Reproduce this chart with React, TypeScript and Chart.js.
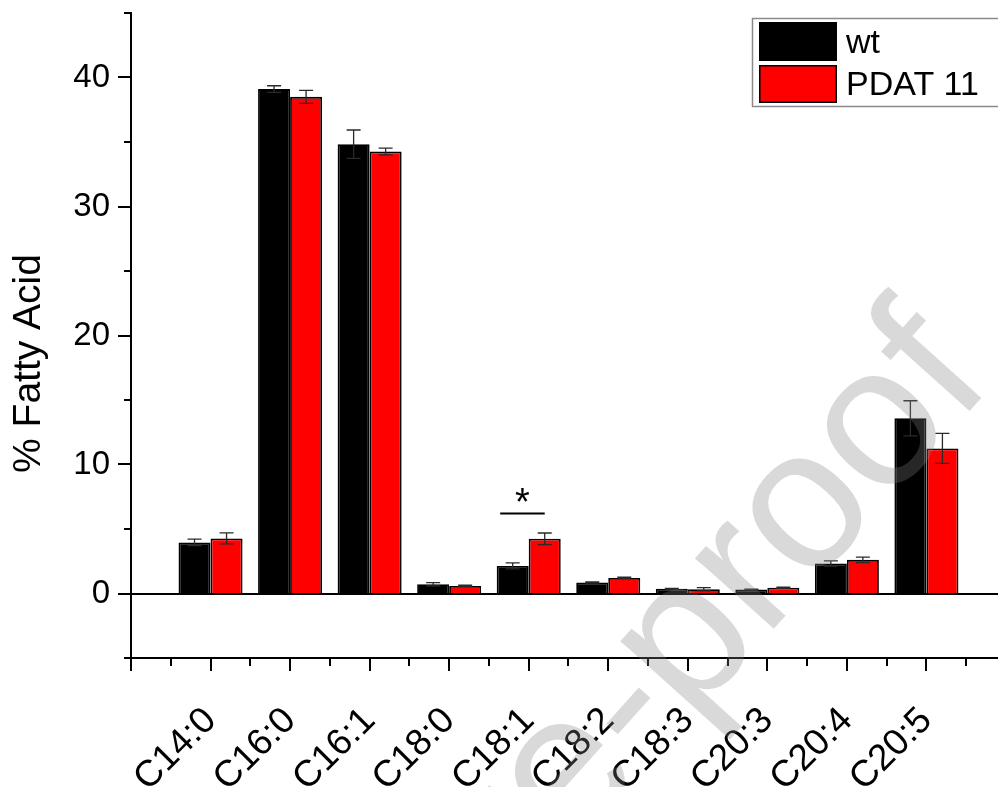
import React, { useEffect, useRef } from "react";
import { Chart, registerables } from "chart.js";

Chart.register(...registerables);

const categories = ["C14:0", "C16:0", "C16:1", "C18:0", "C18:1", "C18:2", "C18:3", "C20:3", "C20:4", "C20:5"];
const wtValues = [3.96, 39.1, 34.83, 0.72, 2.14, 0.85, 0.36, 0.31, 2.33, 13.58];
const wtErrors = [0.25, 0.26, 1.1, 0.13, 0.23, 0.05, 0.03, 0.03, 0.2, 1.36];
const pdatValues = [4.27, 38.5, 34.26, 0.59, 4.24, 1.21, 0.33, 0.44, 2.61, 11.25];
const pdatErrors = [0.43, 0.5, 0.26, 0.05, 0.45, 0.05, 0.12, 0.05, 0.21, 1.16];
const seriesLabels = ["wt", "PDAT 11"];
const seriesColors = ["#000000", "#ff0000"];
const yTickValues = [0, 10, 20, 30, 40];
const yMin = -5;
const yMax = 45;
const xMin = 0;
const xMax = 10.9;
const significantCategory = "C18:1";
const significanceLineValue = 6.25;
const yTitle = "% Fatty Acid";
const watermarkText = "Journal Pre-proof";

const FONT = '"Liberation Sans", Arial, sans-serif';

const zeroPad = (s: any) => {
  s.paddingLeft = 0;
  s.paddingRight = 0;
  s.paddingTop = 0;
  s.paddingBottom = 0;
};

const decorPlugin = {
  id: "decor",
  afterDatasetsDraw(chart: any) {
    const { ctx, chartArea, scales } = chart;
    const xs = scales.x;
    const ys = scales.y;
    ctx.save();
    // zero line
    ctx.strokeStyle = "#000";
    ctx.lineWidth = 2;
    const y0 = Math.round(ys.getPixelForValue(0));
    ctx.beginPath();
    ctx.moveTo(chartArea.left, y0);
    ctx.lineTo(chartArea.right, y0);
    ctx.stroke();

    // error bars
    const errs = [wtErrors, pdatErrors];
    const vals = [wtValues, pdatValues];
    ctx.strokeStyle = "#2a2a2a";
    ctx.lineWidth = 1.3;
    for (let d = 0; d < 2; d++) {
      const meta = chart.getDatasetMeta(d);
      meta.data.forEach((el: any, i: number) => {
        const x = el.x;
        const top = ys.getPixelForValue(vals[d][i] + errs[d][i]);
        const bot = ys.getPixelForValue(vals[d][i] - errs[d][i]);
        ctx.beginPath();
        ctx.moveTo(x, top);
        ctx.lineTo(x, bot);
        ctx.moveTo(x - 7, top);
        ctx.lineTo(x + 7, top);
        ctx.moveTo(x - 7, bot);
        ctx.lineTo(x + 7, bot);
        ctx.stroke();
      });
    }

    // tick marks
    ctx.strokeStyle = "#000";
    ctx.lineWidth = 2;
    for (let v = yMin; v <= yMax; v += 5) {
      const len = v % 10 === 0 ? 13 : 7;
      const y = Math.round(ys.getPixelForValue(v));
      ctx.beginPath();
      ctx.moveTo(chartArea.left - len, y);
      ctx.lineTo(chartArea.left, y);
      ctx.stroke();
    }
    for (let v = xMin; v <= xMax; v += 0.5) {
      const len = Number.isInteger(v) ? 13 : 8;
      const x = Math.round(xs.getPixelForValue(v));
      ctx.beginPath();
      ctx.moveTo(x, chartArea.bottom);
      ctx.lineTo(x, chartArea.bottom + len);
      ctx.stroke();
    }

    // significance marker
    const si = categories.indexOf(significantCategory);
    const b0 = chart.getDatasetMeta(0).data[si];
    const b1 = chart.getDatasetMeta(1).data[si];
    const ly = Math.round(ys.getPixelForValue(significanceLineValue)) + 0.5;
    const x1 = b0.x - 12.5;
    const x2 = b1.x;
    ctx.lineWidth = 2.2;
    ctx.beginPath();
    ctx.moveTo(x1, ly);
    ctx.lineTo(x2, ly);
    ctx.stroke();
    ctx.fillStyle = "#000";
    ctx.font = `38px ${FONT}`;
    ctx.textAlign = "center";
    ctx.textBaseline = "alphabetic";
    ctx.fillText("*", (x1 + x2) / 2, ly + 1);

    // legend
    const ds = chart.data.datasets;
    ctx.strokeStyle = "#8a8a8a";
    ctx.lineWidth = 1.5;
    ctx.strokeRect(752.5, 18.5, 260, 88);
    const rows = [
      { y: 22, h: 39, base: 53 },
      { y: 65, h: 38, base: 95 },
    ];
    ds.forEach((d: any, i: number) => {
      const r = rows[i];
      ctx.fillStyle = d.backgroundColor;
      ctx.fillRect(759, r.y, 78, r.h);
      ctx.strokeStyle = "#000";
      ctx.lineWidth = 1.5;
      ctx.strokeRect(759.75, r.y + 0.75, 76.5, r.h - 1.5);
      ctx.fillStyle = "#000";
      ctx.font = `34px ${FONT}`;
      ctx.textAlign = "left";
      ctx.textBaseline = "alphabetic";
      ctx.fillText(d.label, 846, r.base);
    });

    // y title
    ctx.save();
    ctx.translate(29, 363.5);
    ctx.rotate(-Math.PI / 2);
    ctx.font = `39px ${FONT}`;
    ctx.textAlign = "center";
    ctx.textBaseline = "middle";
    ctx.fillStyle = "#000";
    ctx.fillText(yTitle, 0, 0);
    ctx.restore();
    ctx.restore();
  },
  afterDraw(chart: any) {
    const { ctx } = chart;
    ctx.save();
    ctx.translate(995, 383);
    ctx.rotate((-48 * Math.PI) / 180);
    ctx.font = `200px ${FONT}`;
    ctx.textAlign = "right";
    ctx.textBaseline = "alphabetic";
    ctx.fillStyle = "rgba(128,128,128,0.3)";
    ctx.fillText(watermarkText, 0, 0);
    ctx.restore();
  },
};

export default function App() {
  const ref = useRef<HTMLCanvasElement>(null);
  useEffect(() => {
    document.body.style.margin = "0";
    Chart.defaults.font.family = FONT;
    const datasets = [wtValues, pdatValues].map((vals, d) => ({
      label: seriesLabels[d],
      data: vals.map((v, i) => ({ x: i + 1, y: v })),
      backgroundColor: seriesColors[d],
      borderColor: "#000",
      borderWidth: 1.8,
      categoryPercentage: 0.805,
      barPercentage: 1,
    }));
    const chart = new Chart(ref.current as HTMLCanvasElement, {
      type: "bar",
      data: { datasets },
      options: {
        responsive: false,
        animation: false,
        events: [],
        layout: { padding: { top: 13, left: 0, right: 0, bottom: 0 } },
        plugins: { legend: { display: false }, tooltip: { enabled: false } },
        scales: {
          x: {
            type: "linear",
            offset: false,
            min: xMin,
            max: xMax,
            grid: { display: false, drawTicks: false, offset: false },
            border: { display: true, color: "#000", width: 2 },
            afterBuildTicks: (s: any) => {
              s.ticks = categories.map((_, i) => ({ value: i + 1 }));
            },
            afterFit: (s: any) => {
              s.height = 129;
              zeroPad(s);
            },
            ticks: {
              autoSkip: false,
              minRotation: 45,
              maxRotation: 45,
              padding: 41,
              color: "#000",
              font: { size: 37, family: FONT },
              callback: (v: any) => categories[Math.round(v) - 1] ?? "",
            },
          },
          y: {
            type: "linear",
            min: yMin,
            max: yMax,
            grid: { display: false, drawTicks: false },
            border: { display: true, color: "#000", width: 2 },
            afterBuildTicks: (s: any) => {
              s.ticks = yTickValues.map((v) => ({ value: v }));
            },
            afterFit: (s: any) => {
              s.width = 131;
              zeroPad(s);
            },
            ticks: {
              padding: 21,
              color: "#000",
              font: { size: 33, family: FONT },
            },
          },
        },
      },
      plugins: [decorPlugin],
    } as any);
    return () => chart.destroy();
  }, []);
  return (
    <div style={{ position: "absolute", left: 0, top: 0, width: 998, height: 787, background: "#fff" }}>
      <canvas ref={ref} width={998} height={787} style={{ width: 998, height: 787, display: "block" }} />
    </div>
  );
}
